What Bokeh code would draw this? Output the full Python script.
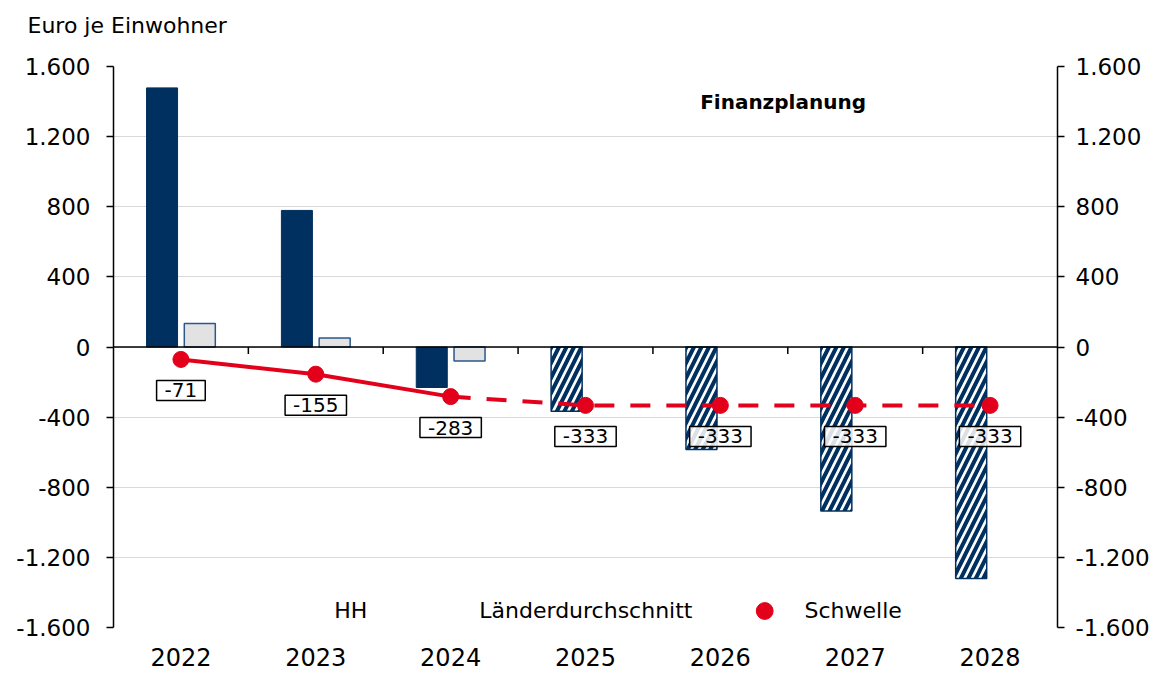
from bokeh.plotting import figure
from bokeh.models import (ColumnDataSource, LinearAxis, FixedTicker, Span, Legend,
                          LegendItem, Label, Range1d, Title)
from bokeh.core.properties import value
from bokeh.embed import file_html
from bokeh.resources import INLINE

# ---- data ----
years = ["2022", "2023", "2024", "2025", "2026", "2027", "2028"]
hh_values = [1478, 779, -231, -366, -585, -936, -1321]
hh_planned = [False, False, False, True, True, True, True]
laender_years = ["2022", "2023", "2024"]
laender_values = [134, 52, -80]
schwelle = [-71, -155, -283, -333, -333, -333, -333]
schwelle_labels = ["-71", "-155", "-283", "-333", "-333", "-333", "-333"]
y_ticks = [-1600, -1200, -800, -400, 0, 400, 800, 1200, 1600]
y_tick_labels = ["-1.600", "-1.200", "-800", "-400", "0", "400", "800", "1.200", "1.600"]

NAVY = "#00305F"
LIGHT = "#E2E2E2"
LD_EDGE = "#2A5A8A"
RED = "#E2001A"
FONT = "DejaVu Sans"

idx = {y: i + 0.5 for i, y in enumerate(years)}
bar_w = 0.23
off = 0.14

hh_solid = ColumnDataSource(dict(
    x=[idx[y] - off for y, p in zip(years, hh_planned) if not p],
    top=[v for v, p in zip(hh_values, hh_planned) if not p]))
hh_hatch = ColumnDataSource(dict(
    x=[idx[y] - off for y, p in zip(years, hh_planned) if p],
    top=[v for v, p in zip(hh_values, hh_planned) if p]))
ld = ColumnDataSource(dict(x=[idx[y] + off for y in laender_years], top=laender_values))

n_solid = 3
sw_all = ColumnDataSource(dict(x=[idx[y] for y in years], y=schwelle, lab=schwelle_labels))
sw_solid = ColumnDataSource(dict(x=[idx[y] for y in years[:n_solid]], y=schwelle[:n_solid]))
sw_dash = ColumnDataSource(dict(x=[idx[y] for y in years[n_solid - 1:]], y=schwelle[n_solid - 1:]))

p = figure(width=1150, height=700, frame_width=944, frame_height=561,
           output_backend="svg", toolbar_location=None,
           x_range=Range1d(0, len(years)), y_range=Range1d(-1600, 1600),
           min_border_left=113, min_border_right=90, min_border_top=0, min_border_bottom=0)
p.outline_line_color = None
p.background_fill_color = "white"

# spacer between title and frame
p.add_layout(Title(text=" ", text_font=FONT, text_font_size="10px", standoff=5), "above")

# title
p.title.text = "Euro je Einwohner"
p.title.align = "left"
p.title.offset = -86
p.title.text_font = FONT
p.title.text_font_size = "22px"
p.title.text_font_style = "normal"
p.title.text_color = "black"
p.title.standoff = 21

# grid
p.xgrid.grid_line_color = None
p.ygrid.ticker = FixedTicker(ticks=y_ticks)
p.ygrid.grid_line_color = "#D9D9D9"
p.ygrid.grid_line_width = 1

# y axes
yl = p.yaxis[0]
yr = LinearAxis()
p.add_layout(yr, "right")
for ax, so in ((yl, 16), (yr, 11)):
    ax.ticker = FixedTicker(ticks=y_ticks)
    ax.major_label_overrides = {t: l for t, l in zip(y_ticks, y_tick_labels)}
    ax.major_tick_out = 7
    ax.major_tick_in = 0
    ax.minor_tick_out = 0
    ax.minor_tick_in = 0
    ax.axis_line_color = "black"
    ax.axis_line_width = 1.5
    ax.major_tick_line_color = "black"
    ax.major_tick_line_width = 1.5
    ax.major_label_text_font = FONT
    ax.major_label_text_font_size = "23px"
    ax.major_label_text_color = "black"
    ax.major_label_standoff = so

# x axis
xa = p.xaxis[0]
xa.ticker = FixedTicker(ticks=[idx[y] for y in years])
xa.major_label_overrides = {idx[y]: y for y in years}
xa.axis_label = None
xa.axis_line_color = None
xa.major_tick_line_color = None
xa.minor_tick_line_color = None
xa.major_tick_out = 0
xa.major_tick_in = 0
xa.minor_tick_out = 0
xa.minor_tick_in = 0
xa.major_label_text_font = FONT
xa.major_label_text_font_size = "24px"
xa.major_label_text_color = "black"
xa.major_label_standoff = 20

# bars
p.vbar(x="x", top="top", bottom=0, width=bar_w, source=hh_solid,
       fill_color=NAVY, line_color=NAVY, line_width=1)
p.vbar(x="x", top="top", bottom=0, width=bar_w, source=hh_hatch,
       fill_color="white", line_color=NAVY, line_width=1.5,
       hatch_pattern="/", hatch_color=NAVY, hatch_weight=4, hatch_scale=15)
p.vbar(x="x", top="top", bottom=0, width=bar_w, source=ld,
       fill_color=LIGHT, line_color=LD_EDGE, line_width=1.5)

# zero line and boundary ticks
p.add_layout(Span(location=0, dimension="width", line_color="black", line_width=1.5))
bounds = list(range(1, len(years)))
p.segment(x0=bounds, x1=bounds, y0=[0] * len(bounds), y1=[-40] * len(bounds),
          line_color="black", line_width=1.5)

# Schwelle
p.line("x", "y", source=sw_solid, line_color=RED, line_width=4)
p.line("x", "y", source=sw_dash, line_color=RED, line_width=4, line_dash="20 16")
r_pt = p.ellipse("x", "y", source=sw_all, width=16, height=16,
                 width_units="screen", height_units="screen",
                 fill_color=RED, line_color=RED)

p.text(x="x", y="y", text="lab", source=sw_all, y_offset=31,
       text_align="center", text_baseline="middle",
       text_font=value(FONT), text_font_size="20px", text_color="black",
       background_fill_color="white", background_fill_alpha=0.85,
       border_line_color="black", border_line_width=1.5, padding=(8, 3))

p.add_layout(Label(x=4.35, y=1400, text="Finanzplanung", text_font=FONT,
                   text_font_size="20px", text_font_style="bold",
                   text_baseline="middle", text_align="left", text_color="black"))

# legend swatches (empty renderers used only for the legend)
lg_hh = p.line(x=[], y=[], line_color=NAVY, line_width=17, line_cap="square")
lg_ld_edge = p.line(x=[], y=[], line_color=LD_EDGE, line_width=17, line_cap="square")
lg_ld_fill = p.line(x=[], y=[], line_color=LIGHT, line_width=14, line_cap="square")
lg_sw = p.line(x=[], y=[], line_color=RED, line_width=4)

legend = Legend(items=[
    LegendItem(label="HH", renderers=[lg_hh]),
    LegendItem(label="Länderdurchschnitt", renderers=[lg_ld_edge, lg_ld_fill]),
    LegendItem(label="Schwelle", renderers=[lg_sw, r_pt]),
], orientation="horizontal", location="bottom_center")
legend.label_text_font = FONT
legend.label_text_font_size = "22px"
legend.label_text_color = "black"
legend.label_height = 20
legend.border_line_color = None
legend.background_fill_color = "white"
legend.background_fill_alpha = 1
legend.padding = 0
legend.margin = 4
legend.glyph_width = 52
legend.glyph_height = 21
legend.label_standoff = 14
legend.spacing = 46
p.add_layout(legend)

open("out.html", "w").write(file_html(p, INLINE))
